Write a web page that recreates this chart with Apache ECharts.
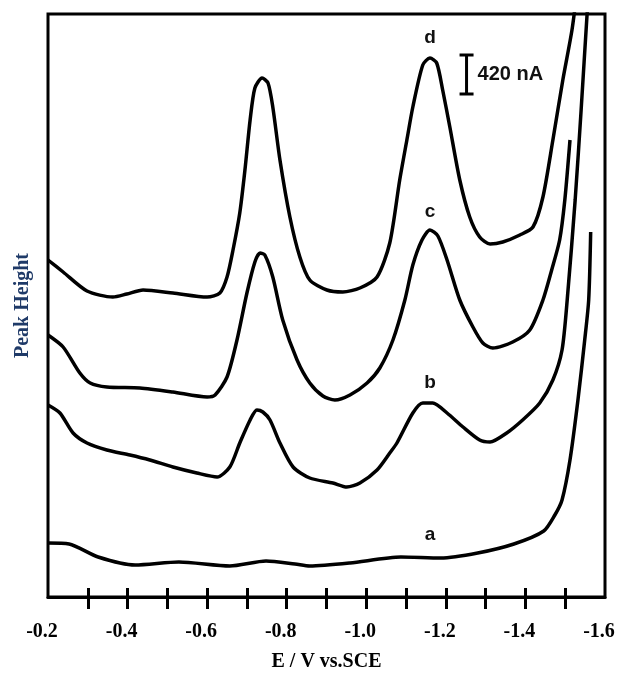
<!DOCTYPE html>
<html>
<head>
<meta charset="utf-8">
<script src="https://cdn.jsdelivr.net/npm/echarts@6/dist/echarts.min.js"></script>
<style>
html,body{margin:0;padding:0;background:#fff;}
#chart{width:617px;height:676px;}
</style>
</head>
<body>
<div id="chart"></div>
<script>
// Potential (V vs SCE) and relative current (arbitrary units; scale bar = 420 nA)
const dE = [-0.200,-0.238,-0.298,-0.363,-0.398,-0.439,-0.514,-0.600,-0.632,-0.650,-0.665,-0.682,-0.695,-0.708,-0.720,-0.738,-0.753,-0.765,-0.783,-0.808,-0.833,-0.858,-0.901,-0.941,-0.984,-1.027,-1.059,-1.084,-1.102,-1.117,-1.142,-1.160,-1.177,-1.192,-1.210,-1.235,-1.260,-1.285,-1.311,-1.343,-1.386,-1.419,-1.444,-1.469,-1.494,-1.517,-1.530];
const dI = [337,325,306,300,303,307,304,300,304,320,347,384,427,477,509,519,514,490,437,380,340,317,307,305,309,320,354,417,457,490,532,539,534,507,470,417,380,360,353,355,362,370,400,457,517,567,607];

const cE = [-0.200,-0.238,-0.280,-0.306,-0.348,-0.431,-0.514,-0.600,-0.620,-0.650,-0.675,-0.700,-0.720,-0.733,-0.745,-0.765,-0.790,-0.826,-0.858,-0.891,-0.921,-0.959,-1.002,-1.034,-1.067,-1.097,-1.117,-1.140,-1.160,-1.180,-1.203,-1.235,-1.268,-1.293,-1.318,-1.368,-1.411,-1.444,-1.466,-1.486,-1.499,-1.512];
const cI = [262,250,224,214,210,209,205,200,202,220,257,304,335,344,342,320,277,237,214,201,197,202,214,229,257,297,332,357,367,361,337,297,270,254,249,255,267,297,327,357,397,457];

const bE = [-0.200,-0.230,-0.263,-0.298,-0.348,-0.406,-0.456,-0.514,-0.574,-0.625,-0.657,-0.682,-0.708,-0.725,-0.740,-0.758,-0.783,-0.816,-0.858,-0.916,-0.951,-0.984,-1.027,-1.059,-1.077,-1.117,-1.142,-1.167,-1.203,-1.243,-1.285,-1.311,-1.353,-1.393,-1.436,-1.469,-1.492,-1.505,-1.525,-1.540,-1.555,-1.563];
const bI = [192,184,164,154,147,142,137,130,124,120,130,154,177,187,185,177,154,130,119,114,110,114,127,144,154,184,194,194,184,170,157,155,164,177,194,217,247,297,397,487,583,627];

const aE = [-0.200,-0.253,-0.326,-0.419,-0.529,-0.657,-0.748,-0.821,-0.858,-0.959,-1.087,-1.187,-1.280,-1.371,-1.446,-1.474,-1.492,-1.512,-1.532,-1.549,-1.559,-1.564];
const aI = [54,53,40,32,35,31,36,33,31,34,40,39,44,53,66,82,97,137,197,257,297,365];

const tickValues = [-0.3,-0.4,-0.5,-0.6,-0.7,-0.8,-0.9,-1.0,-1.1,-1.2,-1.3,-1.4,-1.5];
const labelValues = [-0.2,-0.4,-0.6,-0.8,-1.0,-1.2,-1.4,-1.6];
const curveNames = ['a','b','c','d'];
const scaleBar = [-1.252, 503, 542]; // E, low, high (420 nA)
const scaleText = '420 nA';

const zip = (xs, ys) => xs.map((x, i) => [x, ys[i]]);
const curves = {a: zip(aE, aI), b: zip(bE, bI), c: zip(cE, cI), d: zip(dE, dI)};
const labelPos = {a: [-1.160, 62], b: [-1.160, 214], c: [-1.160, 385], d: [-1.160, 559]};

const serif = '"Liberation Serif", "Times New Roman", serif';
const sans = '"Liberation Sans", Arial, sans-serif';

const chart = echarts.init(document.getElementById('chart'));

const baseX = {
  type: 'value', min: -1.6, max: -0.2, interval: 0.1, inverse: true,
  splitLine: {show: false}
};

const series = curveNames.map(n => ({
  name: n, type: 'line', data: curves[n], showSymbol: false, smooth: 0.25,
  lineStyle: {color: '#000', width: 3.5}, xAxisIndex: 0, yAxisIndex: 0,
  silent: true, animation: false,
  markPoint: {
    symbol: 'circle', symbolSize: 0, silent: true,
    label: {show: true, position: 'inside', formatter: n, color: '#111',
      fontFamily: sans, fontWeight: 'bold', fontSize: 19},
    data: [{coord: labelPos[n]}]
  }
}));

series.push({
  type: 'custom', xAxisIndex: 0, yAxisIndex: 0, clip: false, silent: true, animation: false,
  data: [scaleBar],
  renderItem: (params, api) => {
    const top = api.coord([api.value(0), api.value(2)]);
    const bot = api.coord([api.value(0), api.value(1)]);
    const w = 7;
    const st = {stroke: '#000', lineWidth: 3};
    return {type: 'group', children: [
      {type: 'line', shape: {x1: top[0], y1: top[1], x2: bot[0], y2: bot[1]}, style: st},
      {type: 'line', shape: {x1: top[0]-w, y1: top[1], x2: top[0]+w, y2: top[1]}, style: st},
      {type: 'line', shape: {x1: bot[0]-w, y1: bot[1], x2: bot[0]+w, y2: bot[1]}, style: st},
      {type: 'text', style: {text: scaleText, x: top[0] + 11, y: (top[1] + bot[1]) / 2,
        verticalAlign: 'middle', align: 'left', fill: '#111',
        font: 'bold 20px ' + sans}}
    ]};
  }
});

chart.setOption({
  animation: false,
  backgroundColor: '#fff',
  grid: {left: 48, right: 12, top: 14, bottom: 79, show: true, outerBoundsMode: 'none',
    containLabel: false,
    borderColor: '#000', borderWidth: 3, backgroundColor: 'transparent'},
  xAxis: [
    Object.assign({}, baseX, {
      position: 'bottom',
      name: 'E / V vs.SCE', nameLocation: 'middle', nameGap: 55,
      nameTextStyle: {fontFamily: serif, fontWeight: 'bold', fontSize: 20, color: '#000'},
      axisLine: {show: true, lineStyle: {color: '#000', width: 3}},
      axisTick: {show: true, inside: true, length: 9, customValues: tickValues,
        lineStyle: {color: '#000', width: 3}},
      axisLabel: {show: true, customValues: labelValues, margin: 25,
        formatter: v => v.toFixed(1), fontFamily: serif, fontWeight: 'bold',
        fontSize: 20, color: '#000', padding: [0, 12, 0, 0], showMinLabel: true, showMaxLabel: true}
    }),
    Object.assign({}, baseX, {
      position: 'bottom',
      axisLine: {show: false},
      axisTick: {show: true, inside: false, length: 12, customValues: tickValues,
        lineStyle: {color: '#000', width: 3}},
      axisLabel: {show: false}
    })
  ],
  yAxis: {
    type: 'value', min: 0, max: 583,
    name: 'Peak Height', nameLocation: 'middle', nameGap: 15,
    nameTextStyle: {fontFamily: serif, fontWeight: 'bold', fontSize: 20, color: '#1f3a68'},
    axisLine: {show: false}, axisTick: {show: false}, axisLabel: {show: false},
    splitLine: {show: false}
  },
  series: series
});
</script>
</body>
</html>
